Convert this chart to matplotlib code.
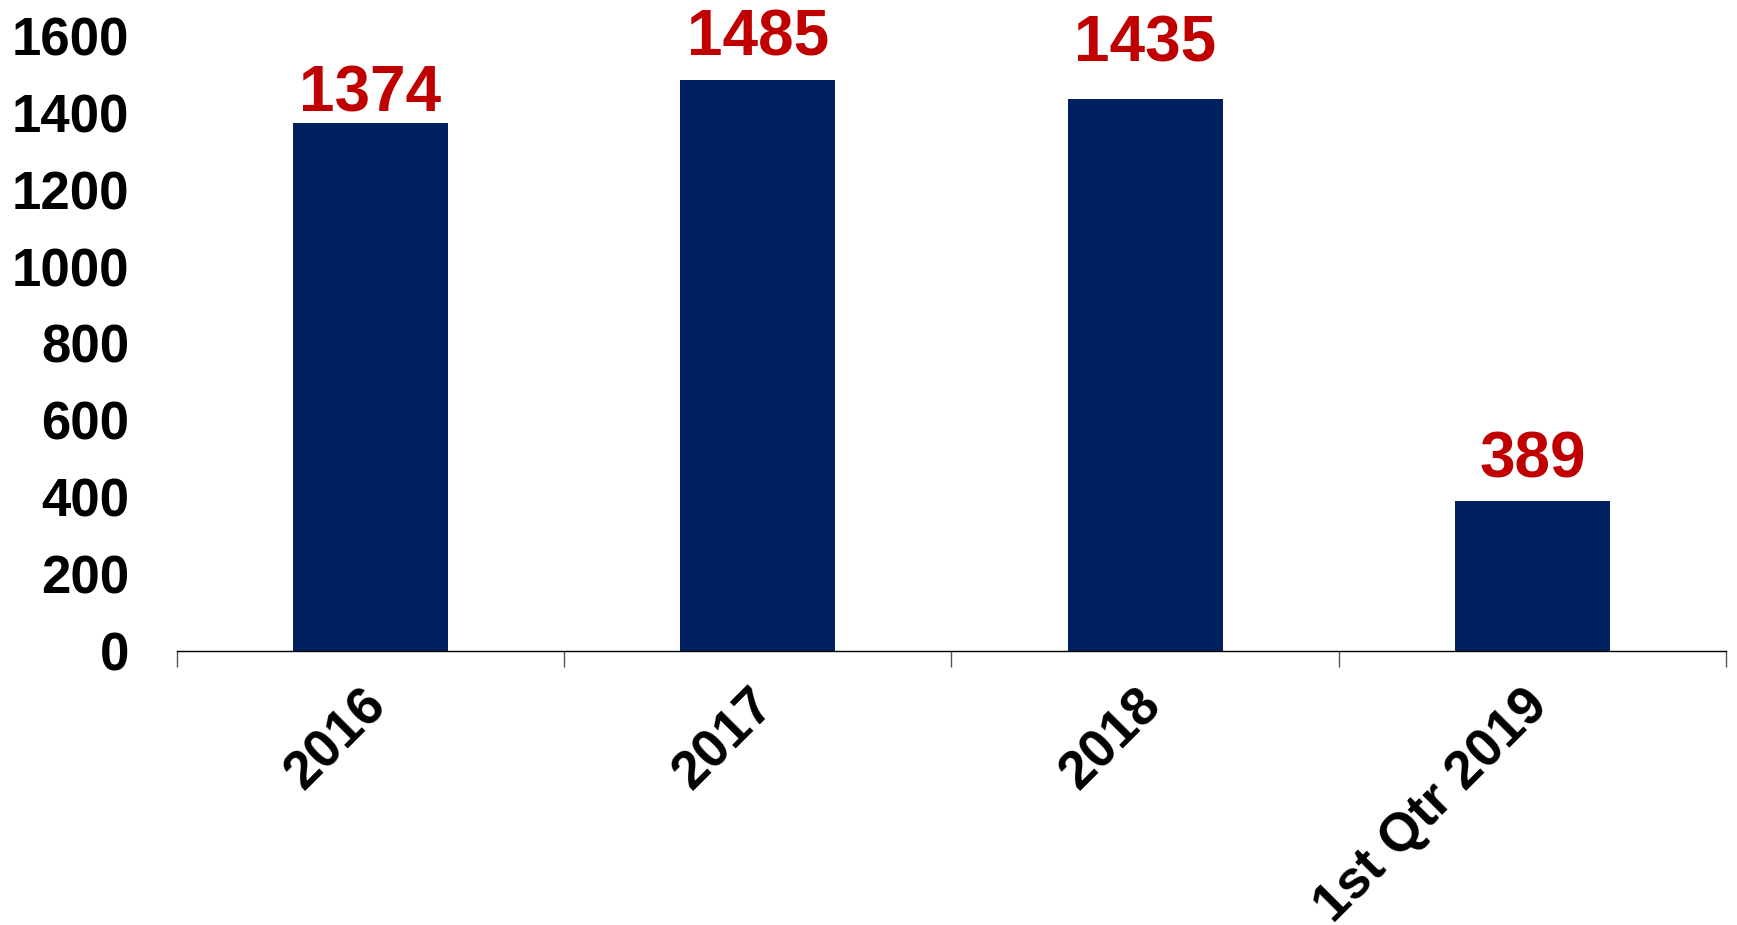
import matplotlib
matplotlib.use('Agg')
import matplotlib.pyplot as plt
import matplotlib.transforms as mtransforms
import numpy as np

categories = ['2016', '2017', '2018', '1st Qtr 2019']
values = [1374, 1485, 1435, 389]
yticks = [0, 200, 400, 600, 800, 1000, 1200, 1400, 1600]

# value labels don't sit at the same height above every bar in the original
label_lift = [-1, 8.5, 18, 8]

plt.rcParams['font.family'] = ['Liberation Sans', 'DejaVu Sans']
plt.rcParams['font.weight'] = 'bold'

fig = plt.figure(figsize=(17.37, 9.25), dpi=100)
ax = fig.add_axes([0.1017, 0.2962, 0.8920, 0.6651])

x = np.arange(len(categories))
bars = ax.bar(x, values, width=0.4, color='#002060')

for xi, v, dy in zip(x, values, label_lift):
    ax.annotate(str(v), (xi, v), xytext=(0, dy), textcoords='offset points',
                ha='center', va='bottom', color='#C00000',
                fontsize=46, fontweight='bold', clip_on=False)

ax.set_xlim(-0.5, len(categories) - 0.5)
ax.set_ylim(0, 1600)
ax.set_yticks(yticks)
ax.set_yticklabels([str(t) for t in yticks], fontsize=38, fontweight='bold')
ax.tick_params(axis='y', length=0, pad=34)

for s in ['top', 'right', 'left']:
    ax.spines[s].set_visible(False)
ax.spines['bottom'].set_linewidth(1.0)
ax.spines['bottom'].set_color('black')

# category labels at centers, ticks at boundaries
ax.set_xticks(x)
ax.set_xticklabels(categories, fontsize=38.5, fontweight='bold',
                   rotation=45, ha='right', va='top', rotation_mode='anchor')
ax.tick_params(axis='x', which='major', length=0, pad=21)
shift = mtransforms.ScaledTranslation(-7 / 72, 0, fig.dpi_scale_trans)
for lbl in ax.get_xticklabels():
    lbl.set_transform(lbl.get_transform() + shift)
ax.set_xticks(np.arange(len(categories) + 1) - 0.5, minor=True)
ax.tick_params(axis='x', which='minor', length=11.5, width=1.0, color='#555555',
               direction='out')

fig.savefig('out.png', dpi=100)
